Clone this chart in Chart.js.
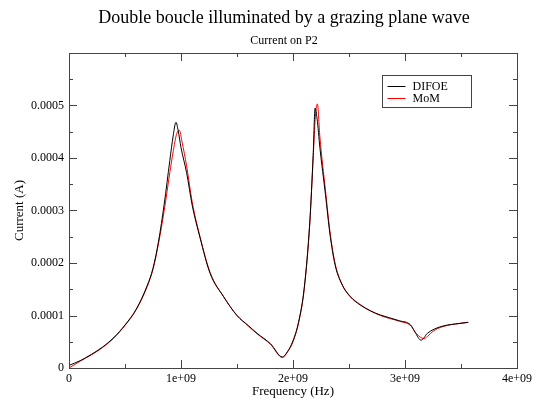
<!DOCTYPE html>
<html>
<head>
<meta charset="utf-8">
<script src="https://cdn.jsdelivr.net/npm/chart.js@4/dist/chart.umd.min.js"></script>
<style>
  html, body { margin: 0; padding: 0; background: #fff; }
  #wrap { width: 540px; height: 401px; }
</style>
</head>
<body>
<div id="wrap"><canvas id="cur" width="540" height="401"></canvas></div>
<script>
// Current on port P2 vs frequency, two solvers
const difoeFreq = [0, 0.1e9, 0.2e9, 0.3e9, 0.4e9, 0.5e9, 0.6e9, 0.7e9, 0.75e9, 0.8e9, 0.85e9, 0.9e9, 0.93e9,
  0.955e9, 0.975e9, 1.0e9, 1.05e9, 1.1e9, 1.17e9, 1.26e9, 1.38e9, 1.5e9, 1.6e9, 1.68e9, 1.8e9, 1.905e9,
  1.95e9, 2.0e9, 2.05e9, 2.1e9, 2.15e9, 2.18e9, 2.197e9, 2.215e9, 2.24e9, 2.29e9, 2.33e9, 2.375e9,
  2.435e9, 2.51e9, 2.6e9, 2.69e9, 2.78e9, 2.95e9, 3.05e9, 3.09e9, 3.143e9, 3.2e9, 3.25e9, 3.34e9,
  3.49e9, 3.565e9];
const difoeCurrent = [0.000005, 0.000014, 0.000026, 0.000040, 0.000058, 0.000082, 0.000112, 0.000158,
  0.000190, 0.000242, 0.000312, 0.000395, 0.000442, 0.000468, 0.000452, 0.000420, 0.000372, 0.000310,
  0.000248, 0.000180, 0.000136, 0.000100, 0.000081, 0.000066, 0.000046, 0.000021, 0.000031, 0.000052,
  0.000088, 0.000152, 0.000278, 0.000405, 0.000495, 0.000475, 0.000420, 0.000330, 0.000255, 0.000197,
  0.000160, 0.000136, 0.000120, 0.000109, 0.000101, 0.000090, 0.000082, 0.000068, 0.000053, 0.000066,
  0.000073, 0.000080, 0.000085, 0.000087];

const momFreq = [0, 0.1e9, 0.2e9, 0.3e9, 0.4e9, 0.5e9, 0.6e9, 0.7e9, 0.75e9, 0.8e9, 0.85e9, 0.9e9, 0.93e9,
  0.96e9, 0.985e9, 1.01e9, 1.05e9, 1.1e9, 1.17e9, 1.26e9, 1.38e9, 1.5e9, 1.6e9, 1.68e9, 1.8e9, 1.905e9,
  1.95e9, 2.0e9, 2.05e9, 2.1e9, 2.15e9, 2.18e9, 2.2e9, 2.218e9, 2.24e9, 2.29e9, 2.33e9, 2.375e9,
  2.435e9, 2.51e9, 2.6e9, 2.69e9, 2.78e9, 2.95e9, 3.05e9, 3.1e9, 3.17e9, 3.2e9, 3.25e9, 3.34e9,
  3.49e9, 3.565e9];
const momCurrent = [0.000000, 0.000013, 0.000025, 0.000039, 0.000057, 0.000081, 0.000111, 0.000156,
  0.000188, 0.000238, 0.000300, 0.000372, 0.000412, 0.000445, 0.000453, 0.000430, 0.000385, 0.000316,
  0.000250, 0.000182, 0.000136, 0.000100, 0.000080, 0.000065, 0.000045, 0.000020, 0.000030, 0.000050,
  0.000086, 0.000150, 0.000276, 0.000400, 0.000480, 0.000503, 0.000440, 0.000338, 0.000260, 0.000200,
  0.000161, 0.000137, 0.000121, 0.000109, 0.000100, 0.000089, 0.000081, 0.000066, 0.000056, 0.000060,
  0.000070, 0.000079, 0.000085, 0.000087];

const xTicks = [0, 1e9, 2e9, 3e9, 4e9];
const xTickLabels = ['0', '1e+09', '2e+09', '3e+09', '4e+09'];
const yTickLabels = ['0', '0.0001', '0.0002', '0.0003', '0.0004', '0.0005', ''];

const serif = '"Liberation Serif", "DejaVu Serif", serif';
const frameColor = '#444';

function toPoints(xs, ys) {
  return xs.map((x, i) => ({ x: x, y: ys[i] }));
}

// xmgrace-like frame: box, inward ticks on all four sides, titles and legend box
const gracePlot = {
  id: 'gracePlot',
  afterDatasetsDraw(chart) {
    const ctx = chart.ctx;
    const a = chart.chartArea;
    const xs = chart.scales.x, ys = chart.scales.y;
    ctx.save();
    ctx.strokeStyle = frameColor;
    ctx.lineWidth = 1;
    ctx.strokeRect(Math.round(a.left) + 0.5, Math.round(a.top) + 0.5,
      Math.round(a.right - a.left), Math.round(a.bottom - a.top));

    ctx.beginPath();
    for (let v = 0; v <= 4e9 + 1; v += 0.5e9) {
      const major = Math.abs(v % 1e9) < 1;
      const len = major ? 8 : 4;
      const px = Math.round(xs.getPixelForValue(v)) + 0.5;
      ctx.moveTo(px, a.bottom); ctx.lineTo(px, a.bottom - len);
      ctx.moveTo(px, a.top); ctx.lineTo(px, a.top + len);
    }
    for (let k = 0; k <= 12; k++) {
      const v = k * 0.00005;
      const len = k % 2 === 0 ? 8 : 4;
      const py = Math.round(ys.getPixelForValue(v)) + 0.5;
      ctx.moveTo(a.left, py); ctx.lineTo(a.left + len, py);
      ctx.moveTo(a.right, py); ctx.lineTo(a.right - len, py);
    }
    ctx.stroke();

    // titles
    ctx.fillStyle = '#000';
    ctx.textAlign = 'center';
    ctx.textBaseline = 'middle';
    ctx.font = '18px ' + serif;
    ctx.fillText('Double boucle illuminated by a grazing plane wave', 284, 18);
    ctx.font = '12px ' + serif;
    ctx.fillText('Current on P2', 284, 41);
    ctx.font = '13px ' + serif;
    ctx.fillText('Frequency (Hz)', (a.left + a.right) / 2, 392);
    ctx.save();
    ctx.translate(20, (a.top + a.bottom) / 2);
    ctx.rotate(-Math.PI / 2);
    ctx.fillText('Current (A)', 0, 0);
    ctx.restore();

    // legend
    const lx = 382.5, ly = 75.5, lw = 89, lh = 32;
    ctx.fillStyle = '#fff';
    ctx.fillRect(lx, ly, lw, lh);
    ctx.strokeStyle = frameColor;
    ctx.strokeRect(lx, ly, lw, lh);
    ctx.font = '12px ' + serif;
    ctx.textAlign = 'left';
    chart.data.datasets.forEach((ds, i) => {
      const yy = ly + 10 + i * 12.5;
      ctx.strokeStyle = ds.borderColor;
      ctx.beginPath();
      ctx.moveTo(lx + 5, Math.round(yy) + 0.5);
      ctx.lineTo(lx + 23, Math.round(yy) + 0.5);
      ctx.stroke();
      ctx.fillStyle = '#000';
      ctx.fillText(ds.label, lx + 30, yy + 1);
    });
    ctx.restore();
  }
};

new Chart(document.getElementById('cur'), {
  type: 'scatter',
  data: {
    datasets: [
      {
        label: 'DIFOE',
        data: toPoints(difoeFreq, difoeCurrent),
        borderColor: '#000000',
        borderWidth: 1,
        showLine: true,
        pointRadius: 0,
        cubicInterpolationMode: 'monotone'
      },
      {
        label: 'MoM',
        data: toPoints(momFreq, momCurrent),
        borderColor: '#ff0000',
        borderWidth: 1,
        showLine: true,
        pointRadius: 0,
        cubicInterpolationMode: 'monotone'
      }
    ]
  },
  options: {
    responsive: false,
    animation: false,
    devicePixelRatio: 1,
    layout: { padding: { top: 53, right: 23, left: 0, bottom: 0 } },
    plugins: {
      legend: { display: false },
      tooltip: { enabled: false }
    },
    scales: {
      x: {
        type: 'linear',
        min: 0,
        max: 4e9,
        grid: { display: false, drawTicks: false },
        border: { display: false },
        afterBuildTicks: (s) => { s.ticks = xTicks.map(v => ({ value: v })); },
        afterFit: (s) => { s.height = 33; },
        ticks: {
          padding: 4,
          color: '#000',
          maxRotation: 0,
          font: { family: serif, size: 12 },
          callback: (v) => xTickLabels[xTicks.indexOf(v)]
        }
      },
      y: {
        type: 'linear',
        min: 0,
        max: 0.0006,
        grid: { display: false, drawTicks: false },
        border: { display: false },
        afterFit: (s) => { s.width = 69; },
        ticks: {
          stepSize: 0.0001,
          padding: 5,
          color: '#000',
          font: { family: serif, size: 12 },
          callback: (v) => yTickLabels[Math.round(v / 0.0001)]
        }
      }
    }
  },
  plugins: [gracePlot]
});
</script>
</body>
</html>
